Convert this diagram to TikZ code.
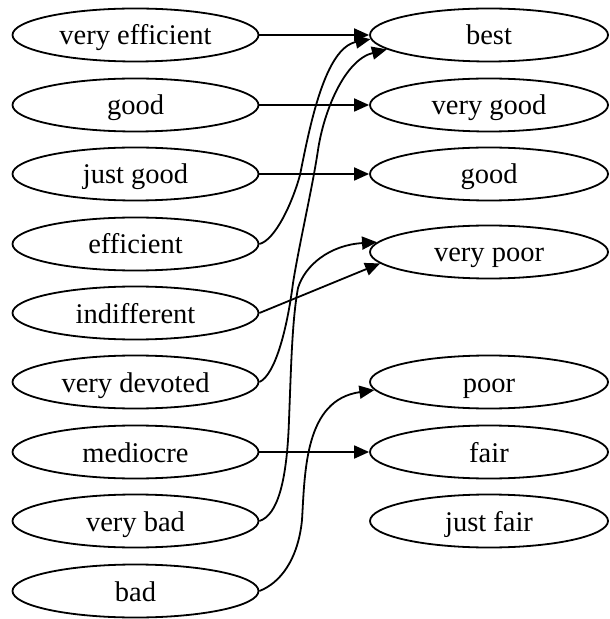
\documentclass[tikz,border=0pt]{standalone}
\usepackage{fontspec}
\setmainfont{Liberation Serif}
\usetikzlibrary{arrows.meta,shapes.geometric}
\begin{document}
\begin{tikzpicture}[x=0.5pt,y=-0.5pt,
  lbox/.style={ellipse,draw,line width=0.9pt,minimum width=123pt,minimum height=26.5pt,
    inner sep=0pt,text height=12pt,text depth=2pt,font=\fontsize{14.25pt}{16pt}\selectfont},
  rbox/.style={lbox,minimum width=119pt},
  link/.style={draw,line width=0.9pt,-{Triangle[length=7.5pt,width=6.5pt]}}]
\useasboundingbox (0,0) rectangle (609,619);

% left column
\node[lbox] (ve)  at (135.5,35)  {very efficient};
\node[lbox] (gd)  at (135.5,105) {good};
\node[lbox] (jg)  at (135.5,174) {just good};
\node[lbox] (ef)  at (135.5,244) {efficient};
\node[lbox] (ind) at (135.5,313) {indifferent};
\node[lbox] (vd)  at (135.5,382) {very devoted};
\node[lbox] (med) at (135.5,452) {mediocre};
\node[lbox] (vb)  at (135.5,521) {very bad};
\node[lbox] (bad) at (135.5,591) {bad};

% right column
\node[rbox] (best) at (489,35)  {best};
\node[rbox] (vg)   at (489,105) {very good};
\node[rbox] (good) at (489,174) {good};
\node[rbox] (vp)   at (489,252) {very poor};
\node[rbox] (poor) at (489,382) {poor};
\node[rbox] (fair) at (489,452) {fair};
\node[rbox] (jf)   at (489,521) {just fair};

% straight links
\draw[link] (ve.east) -- (best.west);
\draw[link] (gd.east) -- (vg.west);
\draw[link] (jg.east) -- (good.west);
\draw[link] (med.east) -- (fair.west);
\draw[link] (ind.east) -- (vp.186);

% curved links
\draw[link] (ef.east) .. controls (275,240) and (292,204) .. (300,175)
  .. controls (310,125) and (325,48) .. (best.182);
\draw[link] (vd.east) .. controls (275,375) and (287,330) .. (293,283)
  .. controls (300,240) and (312,190) .. (318,150)
  .. controls (324,110) and (345,60) .. (best.188);
\draw[link] (vb.east) .. controls (278,515) and (287,480) .. (289,420)
  .. controls (291,370) and (292,320) .. (298,288)
  .. controls (305,265) and (330,245) .. (vp.175);
\draw[link] (bad.east) .. controls (280,583) and (298,560) .. (302,520)
  .. controls (305,470) and (305,400) .. (poor.184);
\end{tikzpicture}
\end{document}
